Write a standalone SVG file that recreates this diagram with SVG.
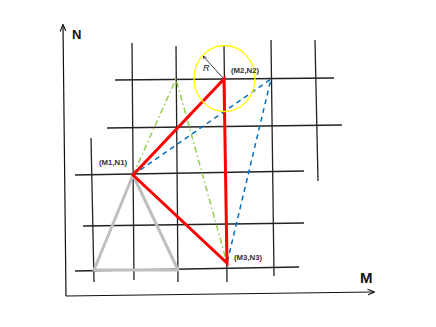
<svg xmlns="http://www.w3.org/2000/svg" width="436" height="327" viewBox="0 0 436 327">
<defs>
<style>
.grid{stroke:#222;stroke-width:1.3;fill:none}
.axis{stroke:#111;stroke-width:1.2;fill:none}
.lbl{font-family:"Liberation Sans",Arial,sans-serif;font-size:7.8px;font-weight:bold;fill:#333}
.big{font-family:"Liberation Sans",Arial,sans-serif;font-weight:bold;fill:#111}
</style>
<marker id="ah" viewBox="0 0 10 10" refX="9" refY="5" markerWidth="6" markerHeight="6" orient="auto-start-reverse">
<path d="M0,1 L10,5 L0,9" fill="none" stroke="#111" stroke-width="1.5"/>
</marker>
<marker id="ahs" viewBox="0 0 10 10" refX="9" refY="5" markerWidth="5" markerHeight="5" orient="auto-start-reverse">
<path d="M0,1 L10,5 L0,9" fill="none" stroke="#111" stroke-width="1.5"/>
</marker>
</defs>
<rect width="436" height="327" fill="#fff"/>
<g id="axes">
<path class="axis" d="M66,296 L63,25" marker-end="url(#ah)"/>
<path class="axis" d="M66,296 L374,292" marker-end="url(#ah)"/>
<text class="big" x="72" y="39" font-size="13">N</text>
<text class="big" x="360" y="283" font-size="15">M</text>
</g>
<g id="grid">
<path class="grid" d="M115,80 L334,78"/>
<path class="grid" d="M107,128 L342,125"/>
<path class="grid" d="M75,175 L304,171"/>
<path class="grid" d="M83,226 L304,223"/>
<path class="grid" d="M75,271 L299,267"/>
<path class="grid" d="M91,138 L94,282"/>
<path class="grid" d="M132,43 L134,280"/>
<path class="grid" d="M176,46 L178,282"/>
<path class="grid" d="M224,45 L227,282"/>
<path class="grid" d="M271,40 L274,276"/>
<path class="grid" d="M315,40 L318,181"/>
</g>
<g id="connectors">
<path d="M94,270 L133,175 L178,270 Z" fill="none" stroke="#bfbfbf" stroke-width="3" stroke-linejoin="round"/>
<path d="M133,175 L176,79 L227,263" fill="none" stroke="#92d050" stroke-width="1.5" stroke-dasharray="6,3,1.5,3"/>
<path d="M133,175 L271,79 L227,263" fill="none" stroke="#0070c0" stroke-width="1.5" stroke-dasharray="5,4"/>
<path d="M133,175 L224,79 L227,263 Z" fill="none" stroke="#ff0000" stroke-width="3" stroke-linejoin="miter"/>
<path d="M224,79 L203,56" stroke="#111" stroke-width="0.8" fill="none" marker-end="url(#ahs)"/>
</g>
<g id="circle">
<ellipse cx="224.5" cy="78.5" rx="30.5" ry="33" fill="none" stroke="#ffff00" stroke-width="1.3"/>
<text x="203" y="71" font-family="Liberation Sans,Arial,sans-serif" font-style="italic" font-size="9" fill="#111">R</text>
</g>
<g id="node-m1n1"><text class="lbl" x="99" y="165">(M1,N1)</text></g>
<g id="node-m2n2"><text class="lbl" x="231" y="73">(M2,N2)</text></g>
<g id="node-m3n3"><text class="lbl" x="234" y="260">(M3,N3)</text></g>
</svg>
